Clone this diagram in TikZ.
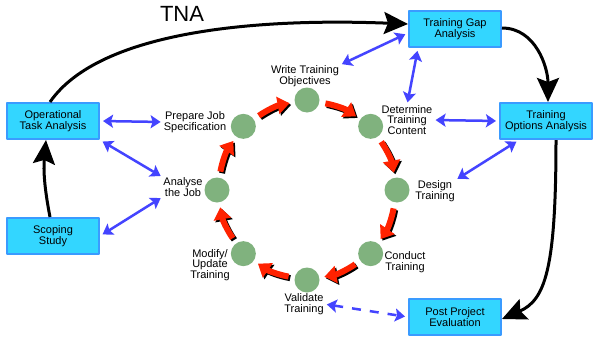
\documentclass[tikz,border=0pt]{standalone}
\usepackage{fontspec}
\setmainfont{Liberation Sans}
\usepackage{tikz}
\usetikzlibrary{arrows.meta}
\definecolor{boxfill}{HTML}{33D6FF}
\definecolor{boxline}{HTML}{3A9BFF}
\definecolor{linkblue}{HTML}{4444FF}
\definecolor{stagegreen}{HTML}{80B27E}
\definecolor{flowred}{HTML}{FF2200}
\tikzset{
  every picture/.style={line join=round, >=Stealth},
  box/.style={draw=boxline, fill=boxfill, line width=2pt, minimum width=92pt, minimum height=36pt, align=center, inner sep=0pt, font=\fontsize{11}{10.5}\selectfont},
  stage/.style={circle, fill=stagegreen, minimum size=25pt, inner sep=0pt},
  lbl/.style={align=center, inner sep=0pt, font=\fontsize{11}{10.5}\selectfont},
  link/.style={draw=linkblue, line width=2.5pt, {Stealth[length=10pt,width=13pt,inset=2pt]}-{Stealth[length=10pt,width=13pt,inset=2pt]}, shorten <=3pt, shorten >=3pt},
  bigarrow/.style={line width=3pt, -{Stealth[length=24pt,width=22pt,inset=4pt]}},
  flow/.style={draw=flowred, line width=6pt, -{Triangle[length=12pt,width=17pt]}, shorten <=6pt, shorten >=5pt},
  flowshadow/.style={flow, draw=black, transform canvas={shift={(1.6pt,-1.6pt)}}},
}

\begin{document}
\begin{tikzpicture}[x=1pt,y=1pt]
\useasboundingbox[fill=white](0,0) rectangle (600,-343);
% outer boxes
\node[box] (ota) at (53,-121) {Operational\\Task Analysis};
\node[box] (scope) at (53,-236) {Scoping\\Study};
\node[box] (tga) at (455,-29) {Training Gap\\Analysis};
\node[box] (toa) at (546,-121) {Training\\Options Analysis};
\node[box] (ppe) at (455,-317) {Post Project\\Evaluation};
% training cycle
\foreach \a/\n in {90/wto,45/dtc,0/dt,-45/ct,-90/vt,-135/mut,180/aj,135/pjs}
  \node[stage] (\n) at ([shift={(307,-190)}]\a:90) {};
\node[lbl] (wtol) at (305,-76) {Write Training\\Objectives};
\node[lbl] (pjsl) at (195,-122) {Prepare Job\\Specification};
\node[lbl] (dtcl) at (407,-120) {Determine\\Training\\Content};
\node[lbl] (dtl) at (435,-191) {Design\\Training};
\node[lbl] (ctl) at (405,-262) {Conduct\\Training};
\node[lbl] (vtl) at (304,-304) {Validate\\Training};
\node[lbl] (mutl) at (210,-265) {Modify/\\Update\\Training};
\node[lbl] (ajl) at (183,-187) {Analyse\\the Job};
\foreach \s/\t in {aj/pjs,pjs/wto,wto/dtc,dtc/dt,dt/ct,ct/vt,vt/mut,mut/aj}{
  \draw[flowshadow] (\s) to[bend left=12] (\t);
  \draw[flow] (\s) to[bend left=12] (\t);
}
% TNA loop
\draw[bigarrow] ([xshift=-3pt]ota.north) .. controls (100,-30) and (260,-18) .. ([yshift=5pt]tga.west);
\node[font=\fontsize{22}{22}\selectfont] (tna) at (182,-14) {TNA};
\draw[bigarrow] ([yshift=1pt]tga.east) to[out=0,in=90] ([xshift=2pt]toa.north);
\draw[bigarrow] ([xshift=10pt]toa.south) .. controls (556,-270) and (545,-300) .. ([yshift=-2pt]ppe.east);
\draw[bigarrow] ([xshift=-3pt]scope.north) to[bend left=8] ([xshift=-7pt]ota.south);
% links
\draw[link] (ota.east) -- (pjsl.west);
\draw[link] (ota.south east) -- (ajl.north west);
\draw[link] (scope.east) -- (ajl.south west);
\draw[link] (wtol.north east) -- ([yshift=-4pt]tga.west);
\draw[link] (dtcl.north) -- ([xshift=10pt]tga.south west);
\draw[link] (dtcl.east) -- (toa.west);
\draw[link] (dtl.north east) -- ([xshift=20pt]toa.south west);
\draw[link, dash pattern=on 9pt off 9pt] (vtl.east) -- (ppe.west);
\end{tikzpicture}
\end{document}
